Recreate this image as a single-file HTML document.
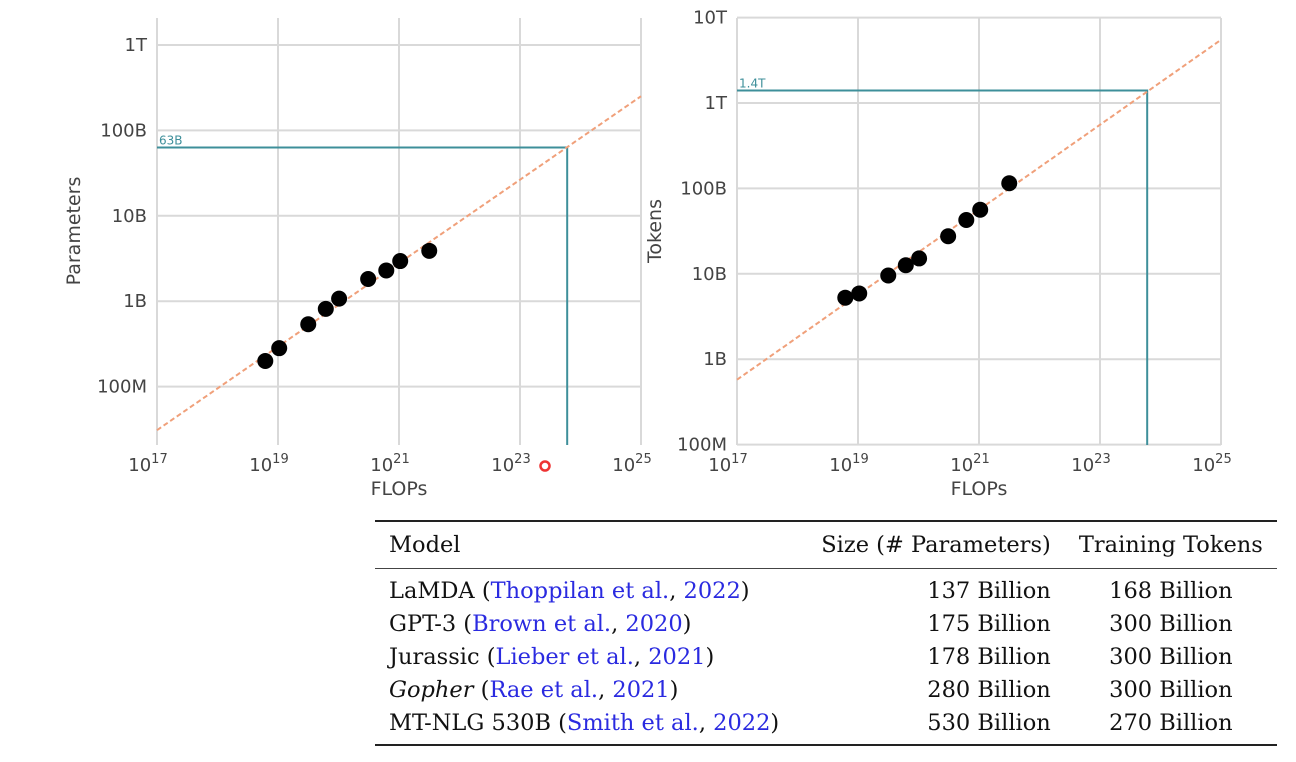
<!DOCTYPE html>
<html><head><meta charset="utf-8">
<style>
body{margin:0;background:#fff;width:1296px;height:762px;overflow:hidden;position:relative;font-family:"DejaVu Sans","Liberation Sans",sans-serif}
svg{position:absolute;left:0;top:0}
table{position:absolute;left:375px;top:520px;width:902px;border-collapse:collapse;font-family:"DejaVu Serif","Liberation Serif",serif;font-size:22.5px;color:#111}
td,th{font-weight:normal;padding:0 14px;height:33px;white-space:nowrap}
th{height:46px;text-align:left}
tr.h{border-top:2px solid #222;border-bottom:1.5px solid #444}
tr.last{border-bottom:2px solid #222}
.r{text-align:right}.c{text-align:center}
a{color:#2a2ae0;text-decoration:none}
</style></head><body>
<svg id="chart" width="1296" height="520"></svg>
<table>
<tr class="h"><th>Model</th><th class="r">Size (# Parameters)</th><th class="c" style="padding:0 12px">Training Tokens</th></tr>
<tr style="height:5px"><td style="height:5px"></td><td style="height:5px"></td><td style="height:5px"></td></tr>
<tr><td>LaMDA (<a>Thoppilan et al.</a>, <a>2022</a>)</td><td class="r">137 Billion</td><td class="c">168 Billion</td></tr>
<tr><td>GPT-3 (<a>Brown et al.</a>, <a>2020</a>)</td><td class="r">175 Billion</td><td class="c">300 Billion</td></tr>
<tr><td>Jurassic (<a>Lieber et al.</a>, <a>2021</a>)</td><td class="r">178 Billion</td><td class="c">300 Billion</td></tr>
<tr><td><i>Gopher</i> (<a>Rae et al.</a>, <a>2021</a>)</td><td class="r">280 Billion</td><td class="c">300 Billion</td></tr>
<tr class="last"><td style="padding-bottom:5px">MT-NLG 530B (<a>Smith et al.</a>, <a>2022</a>)</td><td class="r" style="padding-bottom:5px">530 Billion</td><td class="c" style="padding-bottom:5px">270 Billion</td></tr>
</table>
<script>
const flops = [18.79,19.02,19.50,19.79,20.01,20.49,20.79,21.02,21.50];
const params = [8.30,8.45,8.73,8.91,9.03,9.26,9.36,9.47,9.59];
const tokens = [9.72,9.77,9.98,10.10,10.18,10.44,10.63,10.75,11.06];
const xTicks = [17,19,21,23,25];
const paramTicks = [8,9,10,11,12];
const paramTickLabels = ['100M','1B','10B','100B','1T'];
const tokenTicks = [8,9,10,11,12,13];
const tokenTickLabels = ['100M','1B','10B','100B','1T','10T'];
const paramFit = [[17,7.49],[25,11.40]];
const tokenFit = [[17,8.76],[25,12.74]];
const optFlops = 23.78;
const optParams = Math.log10(63e9);
const optTokens = Math.log10(1.4e12);

const svg=document.getElementById('chart');
const NS='http://www.w3.org/2000/svg';
function el(t,a,txt){const e=document.createElementNS(NS,t);for(const k in a)e.setAttribute(k,a[k]);if(txt!==undefined)e.textContent=txt;svg.appendChild(e);return e;}

function panel(p){
  const x=v=>p.x0+(v-17)*(p.x1-p.x0)/8;
  const y=v=>p.yRef-(v-p.vRef)*85.4;
  xTicks.forEach(t=>{const g=el('line',{x1:x(t),x2:x(t),y1:18,y2:445,stroke:'#d9d9d9','stroke-width':2});
    });
  p.ticks.forEach(t=>{const g=el('line',{x1:p.x0,x2:p.x1,y1:y(t),y2:y(t),stroke:'#d9d9d9','stroke-width':2});
    });
  xTicks.forEach(t=>{const tx=el('text',{x:x(t)-9,y:471,'text-anchor':'middle','font-size':18,fill:'#444'});
    
    tx.innerHTML='10<tspan dy="-8" font-size="13">'+t+'</tspan>';});
  p.ticks.forEach((t,i)=>{const tx=el('text',{x:p.x0-10,y:y(t)+6,'text-anchor':'end','font-size':18,fill:'#444'},p.labels[i]);
    });
  const oy=y(p.opt), ox=x(optFlops);
  const ol=el('polyline',{points:`${p.x0},${oy} ${ox},${oy} ${ox},445`,fill:'none',stroke:'#3e8f9a','stroke-width':2});
  
  const olb=el('text',{x:p.x0+2,y:oy-3,'font-size':12,fill:'#3e8f9a'},p.optLabel);
  
  const f=el('line',{x1:x(p.fit[0][0]),y1:y(p.fit[0][1]),x2:x(p.fit[1][0]),y2:y(p.fit[1][1]),stroke:'#f0a07a','stroke-width':2,'stroke-dasharray':'5,3'});
  
  flops.forEach((v,i)=>{const c=el('circle',{cx:x(v),cy:y(p.vals[i]),r:8,fill:'#000'});
    });
  const xt=el('text',{x:(p.x0+p.x1)/2,y:495,'text-anchor':'middle','font-size':19,fill:'#444'},'FLOPs');
  
  const yt=el('text',{x:p.titleX,y:231,'text-anchor':'middle','font-size':19,fill:'#444',transform:`rotate(-90 ${p.titleX} 231)`},p.title);
  
}
panel({x0:157,x1:641,yRef:45,vRef:12,ticks:paramTicks,labels:paramTickLabels,vals:params,fit:paramFit,opt:optParams,optLabel:'63B',title:'Parameters',titleX:80});
panel({x0:737,x1:1221,yRef:103,vRef:12,ticks:tokenTicks,labels:tokenTickLabels,vals:tokens,fit:tokenFit,opt:optTokens,optLabel:'1.4T',title:'Tokens',titleX:661});
const cur=el('circle',{cx:545,cy:466,r:4.5,fill:'none',stroke:'#e33','stroke-width':2.5});

</script>
</body></html>
